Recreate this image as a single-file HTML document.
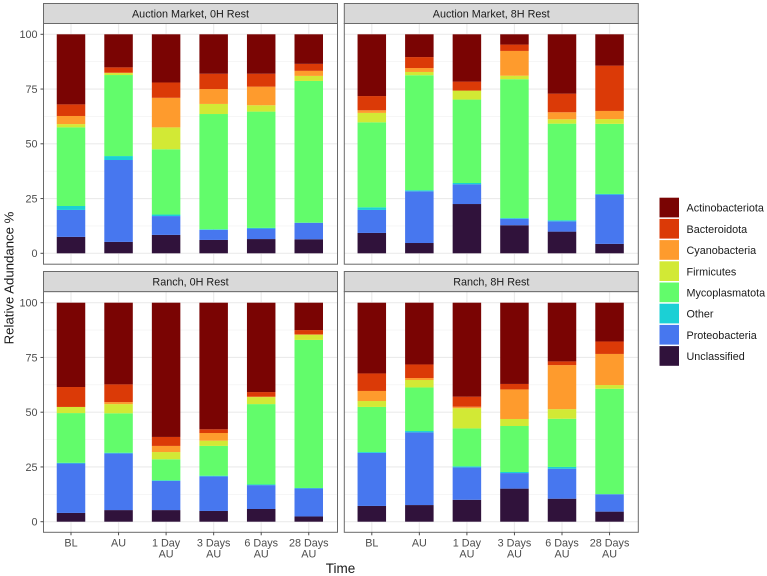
<!DOCTYPE html>
<html lang="en">
<head>
<meta charset="utf-8">
<title>Relative Adundance by Time</title>
<style>
html,body{margin:0;padding:0;background:#fff;}
svg{display:block;font-family:"Liberation Sans",Arial,sans-serif;}
</style>
</head>
<body>
<svg id="chart" width="767" height="576" viewBox="0 0 767 576" xmlns="http://www.w3.org/2000/svg">
<text transform="translate(13.5,278) rotate(-90)" text-anchor="middle" font-size="13.2" fill="#1a1a1a">Relative Adundance %</text>
<text x="340.5" y="573" text-anchor="middle" font-size="13.5" fill="#1a1a1a">Time</text>
</svg>
<script>
const categories = ["BL", "AU", "1 Day|AU", "3 Days|AU", "6 Days|AU", "28 Days|AU"];
const yTicks = [0, 25, 50, 75, 100];
const yMinorTicks = [12.5, 37.5, 62.5, 87.5];
const panelTitles = ["Auction Market, 0H Rest", "Auction Market, 8H Rest", "Ranch, 0H Rest", "Ranch, 8H Rest"];
const seriesNames = ["Unclassified", "Proteobacteria", "Other", "Mycoplasmatota", "Firmicutes", "Cyanobacteria", "Bacteroidota", "Actinobacteriota"];
const seriesColors = ["#30123B", "#4777EF", "#1BD0D5", "#62FC6B", "#D2E935", "#FE9B2D", "#DB3A07", "#7A0403"];

/* Segment values (%) per time point, one array per panel and phylum */
const auction0hUnclassified = [7.5, 5.2, 8.4, 6.1, 6.5, 6.4];
const auction0hProteobacteria = [12.3, 37.4, 8.6, 4.6, 4.8, 7.5];
const auction0hOther = [1.8, 1.8, 0.7, 0.3, 0.3, 0.1];
const auction0hMycoplasmatota = [35.9, 37, 29.8, 52.6, 53.1, 64.7];
const auction0hFirmicutes = [1.5, 0.9, 10, 4.6, 2.9, 2.3];
const auction0hCyanobacteria = [3.7, 0.2, 13.5, 6.8, 8.5, 2.3];
const auction0hBacteroidota = [5.3, 2.4, 7, 7, 5.9, 3.2];
const auction0hActinobacteriota = [32, 15.1, 22, 18, 18, 13.5];

const auction8hUnclassified = [9.3, 4.7, 22.5, 12.8, 9.9, 4.3];
const auction8hProteobacteria = [10.5, 23.6, 9, 3, 4.7, 22.5];
const auction8hOther = [1.2, 0.5, 0.6, 0.3, 0.5, 0.3];
const auction8hMycoplasmatota = [38.8, 52.5, 38.1, 63.4, 44.1, 32];
const auction8hFirmicutes = [4.3, 1.5, 4.1, 1.6, 2, 2.2];
const auction8hCyanobacteria = [1.2, 1.8, 0, 11.3, 3.2, 3.7];
const auction8hBacteroidota = [6.5, 5, 4.1, 2.9, 8.5, 20.7];
const auction8hActinobacteriota = [28.2, 10.4, 21.6, 4.7, 27.1, 14.3];

const ranch0hUnclassified = [4, 5.3, 5.3, 4.9, 5.8, 2.4];
const ranch0hProteobacteria = [22.6, 25.9, 13.3, 15.8, 10.9, 12.8];
const ranch0hOther = [0.3, 0.3, 0.3, 0.3, 0.3, 0.2];
const ranch0hMycoplasmatota = [22.7, 18, 9.6, 13.6, 36.7, 67.6];
const ranch0hFirmicutes = [2.8, 4.2, 3.3, 2.4, 3.2, 2.4];
const ranch0hCyanobacteria = [0, 0.9, 2.8, 3.5, 0.2, 0.1];
const ranch0hBacteroidota = [9.1, 8.1, 4.1, 1.7, 2.1, 2];
const ranch0hActinobacteriota = [38.5, 37.3, 61.3, 57.8, 40.8, 12.5];

const ranch8hUnclassified = [7.2, 7.6, 10, 15.1, 10.5, 4.6];
const ranch8hProteobacteria = [24.2, 33.2, 14.8, 7.1, 13.7, 7.9];
const ranch8hOther = [0.4, 0.6, 0.5, 0.5, 0.8, 0.1];
const ranch8hMycoplasmatota = [20.6, 19.9, 17.3, 21, 22, 48.1];
const ranch8hFirmicutes = [2.7, 3.4, 9.2, 3.2, 4.4, 1.7];
const ranch8hCyanobacteria = [4.6, 0.9, 0.7, 13.5, 20.1, 14.2];
const ranch8hBacteroidota = [8, 6.2, 4.6, 2.5, 1.7, 5.7];
const ranch8hActinobacteriota = [32.3, 28.2, 42.9, 37.1, 26.8, 17.7];

const panelSeries = [
  [auction0hUnclassified, auction0hProteobacteria, auction0hOther, auction0hMycoplasmatota, auction0hFirmicutes, auction0hCyanobacteria, auction0hBacteroidota, auction0hActinobacteriota],
  [auction8hUnclassified, auction8hProteobacteria, auction8hOther, auction8hMycoplasmatota, auction8hFirmicutes, auction8hCyanobacteria, auction8hBacteroidota, auction8hActinobacteriota],
  [ranch0hUnclassified, ranch0hProteobacteria, ranch0hOther, ranch0hMycoplasmatota, ranch0hFirmicutes, ranch0hCyanobacteria, ranch0hBacteroidota, ranch0hActinobacteriota],
  [ranch8hUnclassified, ranch8hProteobacteria, ranch8hOther, ranch8hMycoplasmatota, ranch8hFirmicutes, ranch8hCyanobacteria, ranch8hBacteroidota, ranch8hActinobacteriota]
];

const svg = document.getElementById('chart');
const NS = 'http://www.w3.org/2000/svg';
function mk(tag, attrs, parent) {
  const el = document.createElementNS(NS, tag);
  for (const k in attrs) el.setAttribute(k, attrs[k]);
  (parent || svg).appendChild(el);
  return el;
}
const colLeft = [43.5, 344.3];
const panelW = 294;
const rowStripTop = [3.5, 271.5];
const rowTop = [23.5, 291.6];
const rowBottom = [264.2, 532.3];
const rowZero = [253.3, 521.7];
const plotH = 219;
const stepX = 47.55;
const barW = 28.5;
function xScale(col, i) { return colLeft[col] + 27.5 + stepX * i; }
function yScale(row, v) { return rowZero[row] - (v / 100) * plotH; }

panelTitles.forEach(function (title, p) {
  const col = p % 2;
  const row = p < 2 ? 0 : 1;
  const L = colLeft[col];
  const T = rowTop[row];
  const B = rowBottom[row];

  const g = mk('g', {});
  
  

  const bg = mk('rect', { x: L, y: T, width: panelW, height: B - T, fill: '#fff' }, g);
  
  

  yMinorTicks.forEach(function (v) {
    const line = mk('line', { x1: L, x2: L + panelW, y1: yScale(row, v), y2: yScale(row, v), stroke: '#f0f0f0', 'stroke-width': 0.7 }, g);
    
    
  });
  yTicks.forEach(function (v) {
    const line = mk('line', { x1: L, x2: L + panelW, y1: yScale(row, v), y2: yScale(row, v), stroke: '#ebebeb', 'stroke-width': 1.2 }, g);
    
    
  });
  categories.forEach(function (c, i) {
    const line = mk('line', { x1: xScale(col, i), x2: xScale(col, i), y1: T, y2: B, stroke: '#ebebeb', 'stroke-width': 1.2 }, g);
    
    
  });

  categories.forEach(function (c, i) {
    let cum = 0;
    seriesNames.forEach(function (name, s) {
      const val = panelSeries[p][s][i];
      const y1 = yScale(row, cum);
      cum += val;
      const y2 = yScale(row, cum);
      const bar = mk('rect', { x: xScale(col, i) - barW / 2, y: y2, width: barW, height: Math.max(0, y1 - y2), fill: seriesColors[s] }, g);
      
      
    });
  });

  const border = mk('rect', { x: L, y: T, width: panelW, height: B - T, fill: 'none', stroke: '#6a6a6a', 'stroke-width': 1 }, g);
  
  

  const strip = mk('rect', { x: L, y: rowStripTop[row], width: panelW, height: T - rowStripTop[row], fill: '#d9d9d9', stroke: '#6a6a6a', 'stroke-width': 1 }, g);
  
  
  const stripLabel = mk('text', { x: L + panelW / 2, y: rowStripTop[row] + 13.8, 'text-anchor': 'middle', 'font-size': 10.8, fill: '#1a1a1a' }, g);
  stripLabel.textContent = title;
  
  

  if (col === 0) {
    yTicks.forEach(function (v) {
      const tick = mk('line', { x1: L - 3, x2: L, y1: yScale(row, v), y2: yScale(row, v), stroke: '#4d4d4d', 'stroke-width': 1 }, g);
      
      
      const label = mk('text', { x: L - 6, y: yScale(row, v) + 3.9, 'text-anchor': 'end', 'font-size': 10.8, fill: '#4d4d4d' }, g);
      label.textContent = String(v);
      
      
    });
  }
  if (row === 1) {
    categories.forEach(function (c, i) {
      const tick = mk('line', { x1: xScale(col, i), x2: xScale(col, i), y1: B, y2: B + 3, stroke: '#4d4d4d', 'stroke-width': 1 }, g);
      
      
      c.split('|').forEach(function (part, k) {
        const label = mk('text', { x: xScale(col, i), y: B + 14.4 + k * 11, 'text-anchor': 'middle', 'font-size': 10.8, fill: '#4d4d4d' }, g);
        label.textContent = part;
        
        
      });
    });
  }
});

const legend = mk('g', {});


seriesNames.slice().reverse().forEach(function (name, i) {
  const color = seriesColors[seriesNames.length - 1 - i];
  const key = mk('rect', { x: 659.5, y: 197.7 + i * 21.2, width: 19.5, height: 19.7, fill: color }, legend);
  
  
  const label = mk('text', { x: 686.5, y: 211.7 + i * 21.2, 'font-size': 10.8, fill: '#1a1a1a' }, legend);
  label.textContent = name;
  
  
});
</script>
</body>
</html>
